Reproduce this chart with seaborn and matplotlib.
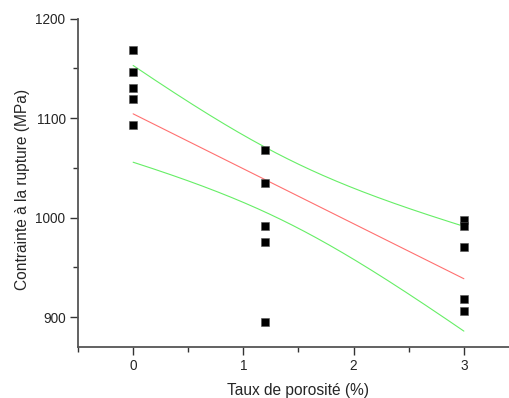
import numpy as np
import pandas as pd
import matplotlib
matplotlib.use("Agg")
import matplotlib.pyplot as plt
from matplotlib.ticker import MultipleLocator
import seaborn as sns

# Porosity levels (%) and measured fracture stress (MPa)
porosite = [0, 0, 0, 0, 0,
            1.2, 1.2, 1.2, 1.2, 1.2,
            3, 3, 3, 3, 3]
contrainte = [1168, 1146, 1130.5, 1119.5, 1093,
              1067.5, 1034.5, 991.5, 975, 895,
              998, 991.5, 970, 918, 906]
x_ticks = [0, 1, 2, 3]
y_ticks = [900, 1000, 1100, 1200]

sns.set_style("ticks")
plt.rcParams["font.family"] = ["Liberation Sans", "DejaVu Sans"]

df = pd.DataFrame({"x": porosite, "y": contrainte})

# Linear fit with 95 % confidence band of the mean
x = df["x"].to_numpy(float)
y = df["y"].to_numpy(float)
n = len(x)
slope, intercept = np.polyfit(x, y, 1)
resid = y - (slope * x + intercept)
s = np.sqrt(np.sum(resid ** 2) / (n - 2))
sxx = np.sum((x - x.mean()) ** 2)
t_crit = 2.1604  # Student t, 13 dof, 97.5 %
xg = np.linspace(x.min(), x.max(), 200)
yg = slope * xg + intercept
half = t_crit * s * np.sqrt(1 / n + (xg - x.mean()) ** 2 / sxx)
fit = pd.DataFrame({"x": xg, "fit": yg, "lo": yg - half, "hi": yg + half})

fig = plt.figure(figsize=(5.10, 3.98), dpi=100)
ax = fig.add_axes([78 / 510, 1 - 347 / 398, (519 - 78) / 510, (347 - 18.5) / 398])

sns.lineplot(data=fit, x="x", y="fit", ax=ax, color="#ff7070", lw=0.8)
sns.lineplot(data=fit, x="x", y="hi", ax=ax, color="#66ee66", lw=0.8)
sns.lineplot(data=fit, x="x", y="lo", ax=ax, color="#66ee66", lw=0.8)
sns.scatterplot(data=df, x="x", y="y", ax=ax, marker="s", s=32,
                color="black", edgecolor="#555555", linewidth=0.4, zorder=5)

ax.set_xlim(-0.5, 3.5)
ax.set_ylim(870, 1200)
ax.set_xticks(x_ticks)
ax.set_yticks(y_ticks)
ax.xaxis.set_minor_locator(MultipleLocator(0.5))
ax.yaxis.set_minor_locator(MultipleLocator(50))
ax.tick_params(axis="both", which="major", length=6, width=1.0,
               color="#333333", labelsize=9.8, pad=3)
ax.tick_params(axis="both", which="minor", length=3.5, width=1.0,
               color="#333333")
for side in ("top", "right"):
    ax.spines[side].set_visible(False)
for side in ("left", "bottom"):
    ax.spines[side].set_color("#555555")
    ax.spines[side].set_linewidth(1.3)

ax.set_xlabel("Taux de porosité (%)", fontsize=11.2, labelpad=7)
ax.set_ylabel("Contrainte à la rupture (MPa)", fontsize=11.2)
ax.yaxis.set_label_coords(-0.109, 0.48)

fig.savefig("out.png", dpi=100)
